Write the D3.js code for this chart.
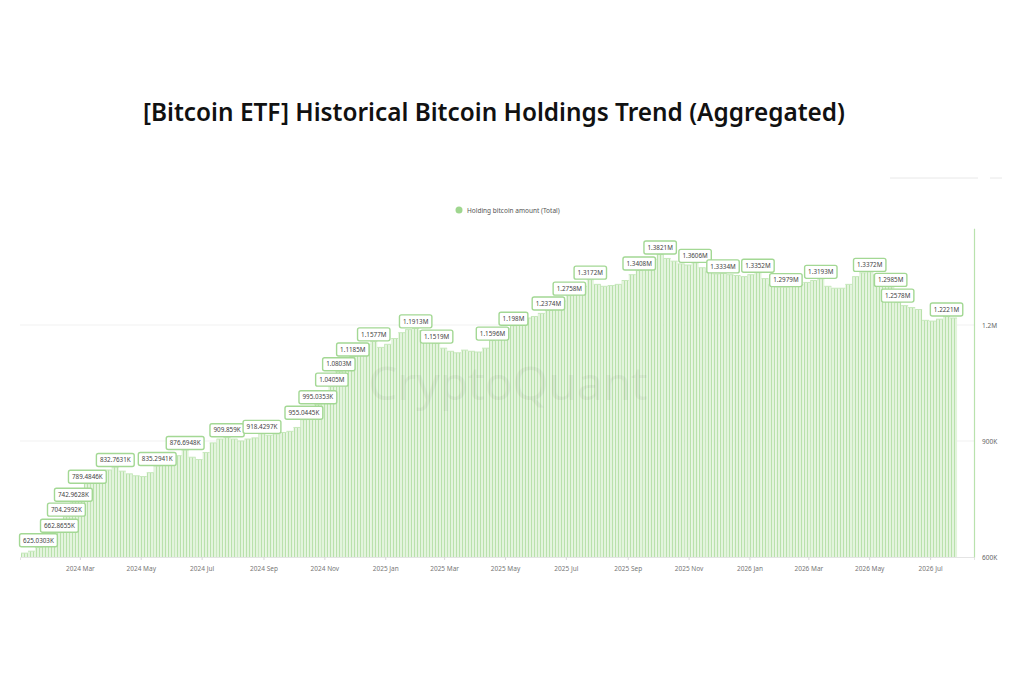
<!DOCTYPE html>
<html>
<head>
<meta charset="utf-8">
<script src="https://cdn.jsdelivr.net/npm/d3@7"></script>
<style>
  html, body { margin: 0; padding: 0; background: #fff; }
  svg { display: block; }
</style>
</head>
<body>
<div id="chart"></div>
<script>
// weekly aggregated holdings (in K BTC), first week starting 2024-01-02
var weekStart = "2024-01-02";
var holdingsK = [
  610, 615, 625.0303, 640, 652, 662.8655, 704.2992, 742.9628, 765, 789.4846,
  805, 815, 825, 832.7631, 822, 815, 810, 808, 818, 835.2941,
  838, 845, 862, 876.6948, 858, 852, 870, 895, 905, 909.859,
  905, 900, 905, 908, 918.4297, 915, 918, 922, 925, 935,
  955.0445, 975, 995.0353, 1020, 1040.5, 1080.3, 1100, 1118.5, 1135, 1150,
  1157.7, 1142, 1150, 1165, 1180, 1188, 1191.3, 1185, 1165, 1151.9,
  1140, 1132, 1128, 1135, 1132, 1130, 1140, 1159.6, 1180, 1190,
  1198, 1210, 1218, 1222, 1230, 1237.4, 1250, 1262, 1275.8, 1285,
  1300, 1317.2, 1305, 1300, 1302, 1305, 1315, 1330, 1340.8, 1350,
  1370, 1382.1, 1372, 1365, 1358, 1355, 1360.6, 1348, 1338, 1332,
  1333.4, 1330, 1328, 1325, 1330, 1335.2, 1320, 1305, 1298, 1297.9,
  1300, 1305, 1310, 1315, 1319.3, 1300, 1295, 1295, 1305, 1325,
  1335, 1337.2, 1330, 1310, 1298.5, 1257.8, 1250, 1245, 1240, 1212,
  1210, 1215, 1222.1, 1218
];
// weeks that carry a value label
var labelIdx = [2, 5, 6, 7, 9, 13, 19, 23, 29, 34, 40, 42, 44, 45, 47, 50, 56, 59,
  67, 70, 75, 78, 81, 88, 91, 96, 100, 105, 109, 114, 121, 124, 125, 132];
var xTicks = ["2024-03-01", "2024-05-01", "2024-07-01", "2024-09-01", "2024-11-01",
  "2025-01-01", "2025-03-01", "2025-05-01", "2025-07-01", "2025-09-01", "2025-11-01",
  "2026-01-01", "2026-03-01", "2026-05-01", "2026-07-01"];
var yTicks = [600000, 900000, 1200000];
var seriesName = "Holding bitcoin amount (Total)";
var titleText = "[Bitcoin ETF] Historical Bitcoin Holdings Trend (Aggregated)";

var W = 1024, H = 683;
var parse = d3.utcParse("%Y-%m-%d");
var DAY = 864e5;
var t0 = parse(weekStart);

var data = holdingsK.map((v, i) => ({
  start: new Date(t0.getTime() + i * 7 * DAY),
  end: new Date(t0.getTime() + (i + 1) * 7 * DAY),
  value: v * 1000,
  i: i
}));

var svg = d3.select("#chart").append("svg")
  .attr("width", W).attr("height", H)
  .style("font-family", "'Noto Sans', 'Open Sans', sans-serif");

var x = d3.scaleUtc()
  .domain([parse("2024-01-01"), parse("2026-08-14")])
  .range([20, 974]);
var y = d3.scaleLinear()
  .domain([600000, 1450000])
  .range([557, 228.3]);

// stripe pattern to mimic dense daily bars
var defs = svg.append("defs");
var pat = defs.append("pattern")
  .attr("id", "stripes")
  .attr("patternUnits", "userSpaceOnUse")
  .attr("width", 3).attr("height", 10);
pat.append("rect").attr("width", 3).attr("height", 10).attr("fill", "#e3f4dd");
pat.append("rect").attr("x", 0).attr("width", 1).attr("height", 10).attr("fill", "#b9e1ac");

// title
var title = svg.append("text")
  .attr("x", 143).attr("y", 121)
  .attr("font-size", 26)
  .attr("font-weight", 600)
  .attr("fill", "#111")
  .text(titleText);
title.attr("textLength", 702).attr("lengthAdjust", "spacingAndGlyphs");

// faint toolbar remnants top right
svg.append("line").attr("x1", 890).attr("x2", 978).attr("y1", 178).attr("y2", 178)
  .attr("stroke", "#e8e8e8").attr("stroke-width", 1);
svg.append("line").attr("x1", 990).attr("x2", 1002).attr("y1", 178).attr("y2", 178)
  .attr("stroke", "#e8e8e8").attr("stroke-width", 1);

// legend
svg.append("circle").attr("cx", 459).attr("cy", 210).attr("r", 3.5).attr("fill", "#9fd68f");
svg.append("text").attr("x", 467).attr("y", 212.5)
  .attr("font-size", 6.5).attr("fill", "#555")
  .text(seriesName);

// grid lines
svg.append("g").selectAll("line")
  .data(yTicks.slice(1))
  .join("line")
  .attr("x1", 20).attr("x2", 974)
  .attr("y1", d => y(d)).attr("y2", d => y(d))
  .attr("stroke", "#f1f1f1");

// bars
svg.append("g").selectAll("rect")
  .data(data)
  .join("rect")
  .attr("x", d => x(d.start))
  .attr("width", d => x(d.end) - x(d.start))
  .attr("y", d => y(d.value))
  .attr("height", d => y(600000) - y(d.value))
  .attr("fill", "url(#stripes)");

// bar top edge
svg.append("g").selectAll("line")
  .data(data)
  .join("line")
  .attr("x1", d => x(d.start)).attr("x2", d => x(d.end))
  .attr("y1", d => y(d.value)).attr("y2", d => y(d.value))
  .attr("stroke", "#c6e8bb").attr("stroke-width", 1);

// watermark
svg.append("text")
  .attr("x", 508).attr("y", 400)
  .attr("text-anchor", "middle")
  .attr("font-size", 46)
  .attr("fill", "#000")
  .attr("opacity", 0.04)
  .text("CryptoQuant");

// x axis
var xAxis = d3.axisBottom(x)
  .tickValues(xTicks.map(parse))
  .tickFormat(d3.utcFormat("%Y %b"))
  .tickSize(3)
  .tickPadding(6);
var gx = svg.append("g").attr("transform", "translate(0,557)").call(xAxis);
gx.select(".domain").attr("stroke", "#e4e4e4");
gx.selectAll(".tick line").attr("stroke", "#d8d8d8");
gx.selectAll("text").attr("font-size", 6.5).attr("fill", "#777")
  .attr("font-family", "'Noto Sans', sans-serif");

// right y axis
var yAxis = d3.axisRight(y)
  .tickValues(yTicks)
  .tickFormat(d => d >= 1e6 ? (d / 1e6) + "M" : (d / 1e3) + "K")
  .tickSize(0)
  .tickPadding(8);
var gy = svg.append("g").attr("transform", "translate(974,0)").call(yAxis);
gy.select(".domain").attr("stroke", "#b9e2ad").attr("stroke-width", 1.2);
gy.selectAll("text").attr("font-size", 6.5).attr("fill", "#666")
  .attr("font-family", "'Noto Sans', sans-serif");

// value labels
function fmt(v) {
  if (v >= 1e6) return parseFloat((v / 1e6).toFixed(4)) + "M";
  return parseFloat((v / 1e3).toFixed(4)) + "K";
}
var lab = svg.append("g").selectAll("g")
  .data(labelIdx.map(i => data[i]))
  .join("g")
  .attr("transform", d => {
    var cx = (x(d.start) + x(d.end)) / 2;
    return "translate(" + cx + "," + (y(d.value) - 7) + ")";
  });
lab.append("rect")
  .attr("fill", "#fff")
  .attr("stroke", "#a3d894")
  .attr("stroke-width", 1.4)
  .attr("rx", 2);
lab.append("text")
  .attr("text-anchor", "middle")
  .attr("dy", "0.35em")
  .attr("font-size", 6.3)
  .attr("fill", "#444")
  .text(d => fmt(d.value));
lab.each(function () {
  var g = d3.select(this);
  var w = g.select("text").node().getComputedTextLength() + 7;
  g.select("rect").attr("x", -w / 2).attr("y", -6.5).attr("width", w).attr("height", 13);
});
</script>
</body>
</html>
